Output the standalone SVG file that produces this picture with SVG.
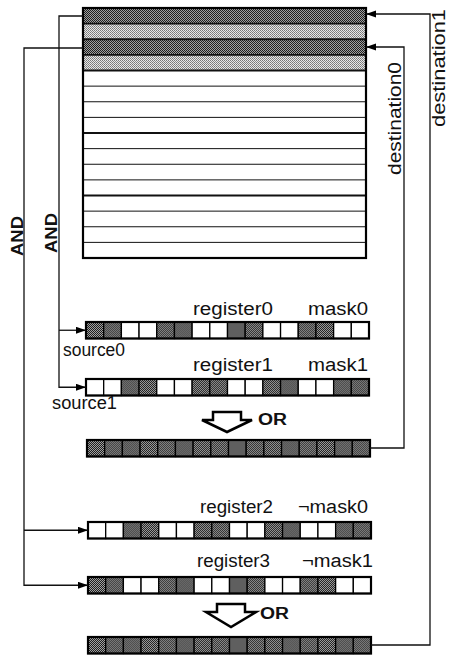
<svg xmlns="http://www.w3.org/2000/svg" xmlns:xlink="http://www.w3.org/1999/xlink" width="449" height="657" viewBox="0 0 449 657">
<style>
.lbl{font-family:"Liberation Sans",Arial,sans-serif;font-size:18px;fill:#111}
.bold{font-family:"Liberation Sans",Arial,sans-serif;font-size:16px;font-weight:bold;fill:#111}
.conn{fill:none;stroke:#111;stroke-width:1.3}
.row{fill:none;stroke:#111;stroke-width:1}
.rowb{fill:none;stroke:#111;stroke-width:1.8}
.outline{fill:none;stroke:#000;stroke-width:2.2}
.orarrow{fill:#fff;stroke:#000;stroke-width:2.5;stroke-linejoin:miter}
</style>
<defs>
<pattern id="pd" width="2" height="2" patternUnits="userSpaceOnUse">
<rect width="2" height="2" fill="#a0a0a0"/>
<rect width="1" height="1" fill="#1e1e1e"/>
<rect x="1" y="1" width="1" height="1" fill="#1e1e1e"/>
</pattern>
<pattern id="pl" width="2" height="2" patternUnits="userSpaceOnUse">
<rect width="2" height="2" fill="#e8e8e8"/>
<rect width="1" height="1" fill="#777"/>
<rect x="1" y="1" width="1" height="1" fill="#888"/>
</pattern>
<rect id="D" width="17.69" height="16.5" fill="url(#pd)" stroke="#000" stroke-width="1.3"/>
<rect id="W" width="17.69" height="16.5" fill="#fff" stroke="#000" stroke-width="1.3"/>
<marker id="ah" markerWidth="11" markerHeight="8" refX="10" refY="3.5" orient="auto" markerUnits="userSpaceOnUse">
<path d="M0,0 L10,3.5 L0,7 z" fill="#000"/>
</marker>
</defs>

<g id="memory">
<rect x="83" y="8" width="283" height="15.63" fill="url(#pd)"/>
<rect x="83" y="23.63" width="283" height="15.62" fill="url(#pl)"/>
<rect x="83" y="39.25" width="283" height="15.63" fill="url(#pd)"/>
<rect x="83" y="54.88" width="283" height="15.62" fill="url(#pl)"/>
<rect x="83" y="70.5" width="283" height="187.5" fill="#fff"/>
<path class="rowb" d="M83,23.63H366M83,39.25H366M83,54.88H366"/>
<path class="row" d="M83,86.13H366M83,101.75H366M83,117.38H366M83,148.63H366M83,164.25H366M83,179.88H366M83,211.13H366M83,226.75H366M83,242.38H366"/>
<path class="rowb" d="M83,70.5H366M83,133H366M83,195.5H366"/>
<rect class="outline" x="83" y="8" width="283" height="250"/>
</g>

<g id="register0" transform="translate(86,322)">
<use href="#D" x="0"/><use href="#D" x="17.69"/><use href="#W" x="35.38"/><use href="#W" x="53.06"/>
<use href="#D" x="70.75"/><use href="#D" x="88.44"/><use href="#W" x="106.13"/><use href="#W" x="123.81"/>
<use href="#D" x="141.5"/><use href="#D" x="159.19"/><use href="#W" x="176.88"/><use href="#W" x="194.56"/>
<use href="#D" x="212.25"/><use href="#D" x="229.94"/><use href="#W" x="247.63"/><use href="#W" x="265.31"/>
<rect class="outline" width="283" height="16.5"/>
</g>
<g id="register1" transform="translate(86,379)">
<use href="#W" x="0"/><use href="#W" x="17.69"/><use href="#D" x="35.38"/><use href="#D" x="53.06"/>
<use href="#W" x="70.75"/><use href="#W" x="88.44"/><use href="#D" x="106.13"/><use href="#D" x="123.81"/>
<use href="#W" x="141.5"/><use href="#W" x="159.19"/><use href="#D" x="176.88"/><use href="#D" x="194.56"/>
<use href="#W" x="212.25"/><use href="#W" x="229.94"/><use href="#D" x="247.63"/><use href="#D" x="265.31"/>
<rect class="outline" width="283" height="16.5"/>
</g>
<g id="result0" transform="translate(87,440)">
<use href="#D" x="0"/><use href="#D" x="17.69"/><use href="#D" x="35.38"/><use href="#D" x="53.06"/>
<use href="#D" x="70.75"/><use href="#D" x="88.44"/><use href="#D" x="106.13"/><use href="#D" x="123.81"/>
<use href="#D" x="141.5"/><use href="#D" x="159.19"/><use href="#D" x="176.88"/><use href="#D" x="194.56"/>
<use href="#D" x="212.25"/><use href="#D" x="229.94"/><use href="#D" x="247.63"/><use href="#D" x="265.31"/>
<rect class="outline" width="283" height="16.5"/>
</g>
<g id="register2" transform="translate(88,522)">
<use href="#W" x="0"/><use href="#W" x="17.69"/><use href="#D" x="35.38"/><use href="#D" x="53.06"/>
<use href="#W" x="70.75"/><use href="#W" x="88.44"/><use href="#D" x="106.13"/><use href="#D" x="123.81"/>
<use href="#W" x="141.5"/><use href="#W" x="159.19"/><use href="#D" x="176.88"/><use href="#D" x="194.56"/>
<use href="#W" x="212.25"/><use href="#W" x="229.94"/><use href="#D" x="247.63"/><use href="#D" x="265.31"/>
<rect class="outline" width="283" height="16.5"/>
</g>
<g id="register3" transform="translate(88,577)">
<use href="#D" x="0"/><use href="#D" x="17.69"/><use href="#W" x="35.38"/><use href="#W" x="53.06"/>
<use href="#D" x="70.75"/><use href="#D" x="88.44"/><use href="#W" x="106.13"/><use href="#W" x="123.81"/>
<use href="#D" x="141.5"/><use href="#D" x="159.19"/><use href="#W" x="176.88"/><use href="#W" x="194.56"/>
<use href="#D" x="212.25"/><use href="#D" x="229.94"/><use href="#W" x="247.63"/><use href="#W" x="265.31"/>
<rect class="outline" width="283" height="16.5"/>
</g>
<g id="result1" transform="translate(88,637)">
<use href="#D" x="0"/><use href="#D" x="17.69"/><use href="#D" x="35.38"/><use href="#D" x="53.06"/>
<use href="#D" x="70.75"/><use href="#D" x="88.44"/><use href="#D" x="106.13"/><use href="#D" x="123.81"/>
<use href="#D" x="141.5"/><use href="#D" x="159.19"/><use href="#D" x="176.88"/><use href="#D" x="194.56"/>
<use href="#D" x="212.25"/><use href="#D" x="229.94"/><use href="#D" x="247.63"/><use href="#D" x="265.31"/>
<rect class="outline" width="283" height="16.5"/>
</g>

<g id="or0">
<path class="orarrow" d="M213,412 H241 V420 H252 L227,432 L202,420 H213 Z"/>
<text class="bold" x="258" y="425" textLength="29" lengthAdjust="spacingAndGlyphs">OR</text>
</g>
<g id="or1">
<path class="orarrow" d="M217,604 H245 V612 H256 L231,627 L206,612 H217 Z"/>
<text class="bold" x="260" y="619" textLength="29" lengthAdjust="spacingAndGlyphs">OR</text>
</g>

<g id="connectors">
<path class="conn" d="M83,16 H59 V387.25 H86" marker-end="url(#ah)"/>
<path class="conn" d="M59,330.25 H86" marker-end="url(#ah)"/>
<path class="conn" d="M83,48 H24 V585.25 H88" marker-end="url(#ah)"/>
<path class="conn" d="M24,530.25 H88" marker-end="url(#ah)"/>
<path class="conn" d="M370,448 H404 V47 H366" marker-end="url(#ah)"/>
<path class="conn" d="M371,645 H430 V14 H366" marker-end="url(#ah)"/>
</g>

<g id="labels">
<text class="lbl" x="193" y="315" textLength="80" lengthAdjust="spacingAndGlyphs">register0</text>
<text class="lbl" x="308" y="315" textLength="60" lengthAdjust="spacingAndGlyphs">mask0</text>
<text class="lbl" x="63" y="356" textLength="62" lengthAdjust="spacingAndGlyphs">source0</text>
<text class="lbl" x="193" y="371" textLength="80" lengthAdjust="spacingAndGlyphs">register1</text>
<text class="lbl" x="308" y="371" textLength="60" lengthAdjust="spacingAndGlyphs">mask1</text>
<text class="lbl" x="52" y="409" textLength="65" lengthAdjust="spacingAndGlyphs">source1</text>
<text class="lbl" x="200" y="513" textLength="73" lengthAdjust="spacingAndGlyphs">register2</text>
<text class="lbl" x="298" y="513" textLength="70" lengthAdjust="spacingAndGlyphs">¬mask0</text>
<text class="lbl" x="197" y="567" textLength="73" lengthAdjust="spacingAndGlyphs">register3</text>
<text class="lbl" x="302" y="567" textLength="71" lengthAdjust="spacingAndGlyphs">¬mask1</text>
<text class="lbl" transform="translate(401,175) rotate(-90)" textLength="113" lengthAdjust="spacingAndGlyphs">destination0</text>
<text class="lbl" transform="translate(445,127) rotate(-90)" textLength="118" lengthAdjust="spacingAndGlyphs">destination1</text>
<text class="bold" transform="translate(23,256) rotate(-90)" textLength="40" lengthAdjust="spacingAndGlyphs">AND</text>
<text class="bold" transform="translate(57,253) rotate(-90)" textLength="40" lengthAdjust="spacingAndGlyphs">AND</text>
</g>
</svg>
